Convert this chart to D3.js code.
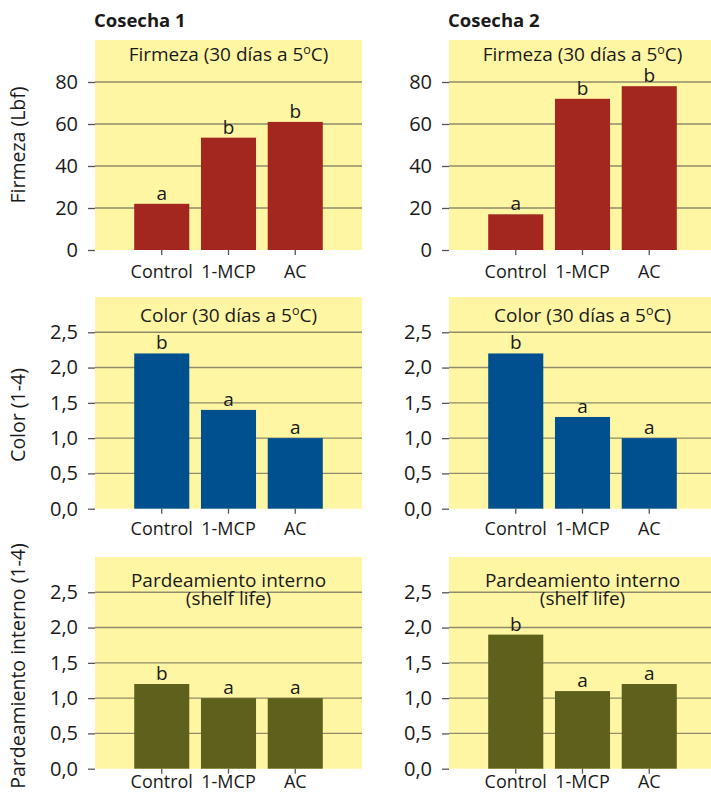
<!DOCTYPE html>
<html>
<head>
<meta charset="utf-8">
<script src="https://cdn.jsdelivr.net/npm/d3@7"></script>
<style>
  body { margin: 0; background: #ffffff; }
  svg { display: block; }
  text { font-family: "Open Sans", "Noto Sans", sans-serif; fill: #1a1a1a; }
</style>
</head>
<body>
<svg id="chart" width="711" height="794"></svg>
<script>
// Treatments on the x axis
const categories = ["Control", "1-MCP", "AC"];
const harvests = ["Cosecha 1", "Cosecha 2"];

// Firmness (Lbf) after 30 days at 5 °C
const firmezaC1 = [22, 53.5, 61];
const firmezaC2 = [17, 72, 78];
const firmezaLetrasC1 = ["a", "b", "b"];
const firmezaLetrasC2 = ["a", "b", "b"];

// Colour score (1-4) after 30 days at 5 °C
const colorC1 = [2.2, 1.4, 1.0];
const colorC2 = [2.2, 1.3, 1.0];
const colorLetrasC1 = ["b", "a", "a"];
const colorLetrasC2 = ["b", "a", "a"];

// Internal browning score (1-4), shelf life
const pardeamientoC1 = [1.2, 1.0, 1.0];
const pardeamientoC2 = [1.9, 1.1, 1.2];
const pardeamientoLetrasC1 = ["b", "a", "a"];
const pardeamientoLetrasC2 = ["b", "a", "a"];

// Axis ticks
const firmezaTicks = [0, 20, 40, 60, 80];
const escalaTicks = [0, 0.5, 1.0, 1.5, 2.0, 2.5];

const svg = d3.select("#chart");
const esLocale = d3.formatLocale({ decimal: ",", thousands: ".", grouping: [3], currency: ["", "€"] });
const fmtDec = esLocale.format(".1f");
const fmtInt = esLocale.format("d");

const columns = [[95, 362], [449, 716]];
const rows = [
  { bottom: 250, top: 40, max: 100, ticks: firmezaTicks, fmt: fmtInt, color: "#a3271f",
    titleLines: [["Firmeza (30 días a 5", "o", "C)"]], titleY: [61], labelDy: 27.5,
    yLabel: "Firmeza (Lbf)", yLabelY: 145,
    series: [[firmezaC1, firmezaLetrasC1], [firmezaC2, firmezaLetrasC2]] },
  { bottom: 508.7, top: 297, max: 3, ticks: escalaTicks, fmt: fmtDec, color: "#00508f",
    titleLines: [["Color (30 días a 5", "o", "C)"]], titleY: [322], labelDy: 26.5,
    yLabel: "Color (1-4)", yLabelY: 415,
    series: [[colorC1, colorLetrasC1], [colorC2, colorLetrasC2]] },
  { bottom: 768.7, top: 557, max: 3, ticks: escalaTicks, fmt: fmtDec, color: "#5e611b",
    titleLines: [["Pardeamiento interno"], ["(shelf life)"]], titleY: [587, 605], labelDy: 19.5,
    yLabel: "Pardeamiento interno (1-4)", yLabelY: 666,
    series: [[pardeamientoC1, pardeamientoLetrasC1], [pardeamientoC2, pardeamientoLetrasC2]] }
];

// Harvest headings
harvests.forEach((h, c) => {
  svg.append("text")
    .attr("x", columns[c][0] - 1)
    .attr("y", 27)
    .attr("font-size", 18.5)
    .attr("font-weight", 700)
    .text(h);
});

rows.forEach(row => {
  const y = d3.scaleLinear().domain([0, row.max]).range([row.bottom, row.top]);

  // Row y-axis label (left column only)
  svg.append("text")
    .attr("transform", `translate(25,${row.yLabelY}) rotate(-90)`)
    .attr("text-anchor", "middle")
    .attr("font-size", 19.5)
    .text(row.yLabel);

  row.series.forEach(([values, letters], c) => {
    const [x0, x1] = columns[c];
    const x = d3.scaleBand().domain(categories).range([x0, x1])
      .paddingInner(0.175).paddingOuter(0.5875).align(0.5);
    const g = svg.append("g");

    // Panel background
    g.append("rect")
      .attr("x", x0).attr("y", y(row.max))
      .attr("width", x1 - x0).attr("height", y(0) - y(row.max))
      .attr("fill", "#fff6a4");

    // Gridlines
    g.selectAll("line.grid").data(row.ticks.filter(t => t > 0)).join("line")
      .attr("x1", x0).attr("x2", x1)
      .attr("y1", d => y(d)).attr("y2", d => y(d))
      .attr("stroke", "#8f8b6c").attr("stroke-width", 1.4);

    // Y axis (ticks + labels, no domain line)
    const yAxis = d3.axisLeft(y).tickValues(row.ticks).tickFormat(row.fmt)
      .tickSize(7).tickPadding(10);
    const ya = g.append("g").attr("transform", `translate(${x0},0)`).call(yAxis);
    ya.select(".domain").remove();
    ya.selectAll(".tick line").attr("stroke", "#555").attr("stroke-width", 1.3);
    ya.selectAll(".tick text")
      .attr("font-family", "'Open Sans', 'Noto Sans', sans-serif")
      .attr("font-size", 20).attr("fill", "#1a1a1a");

    // Bars
    g.selectAll("rect.bar").data(values).join("rect")
      .attr("class", "bar")
      .attr("x", (d, i) => x(categories[i]))
      .attr("y", d => y(d))
      .attr("width", x.bandwidth())
      .attr("height", d => y(0) - y(d))
      .attr("fill", row.color);

    // Significance letters
    g.selectAll("text.letter").data(values).join("text")
      .attr("class", "letter")
      .attr("x", (d, i) => x(categories[i]) + x.bandwidth() / 2)
      .attr("y", d => y(d) - 4)
      .attr("text-anchor", "middle")
      .attr("font-family", "'Liberation Serif', serif")
      .attr("font-size", 19)
      .text((d, i) => letters[i]);

    // X axis ticks and labels
    const xAxis = d3.axisBottom(x).tickSize(5).tickPadding(0).tickFormat("");
    const xa = g.append("g").attr("transform", `translate(0,${row.bottom})`).call(xAxis);
    xa.select(".domain").remove();
    xa.selectAll(".tick line").attr("stroke", "#555").attr("stroke-width", 1.3);
    g.selectAll("text.cat").data(categories).join("text")
      .attr("class", "cat")
      .attr("x", d => x(d) + x.bandwidth() / 2)
      .attr("y", row.bottom + row.labelDy)
      .attr("text-anchor", "middle")
      .attr("font-size", 18)
      .text(d => d);

    // Panel title
    const cx = (x0 + x1) / 2;
    row.titleLines.forEach((parts, li) => {
      const t = g.append("text")
        .attr("x", cx).attr("y", row.titleY[li])
        .attr("text-anchor", "middle")
        .attr("font-size", 19);
      t.append("tspan").text(parts[0]);
      if (parts.length > 1) {
        t.append("tspan").attr("font-size", 12.5).attr("dy", -7).text(parts[1]);
        t.append("tspan").attr("dy", 7).text(parts[2]);
      }
    });
  });
});
</script>
</body>
</html>
